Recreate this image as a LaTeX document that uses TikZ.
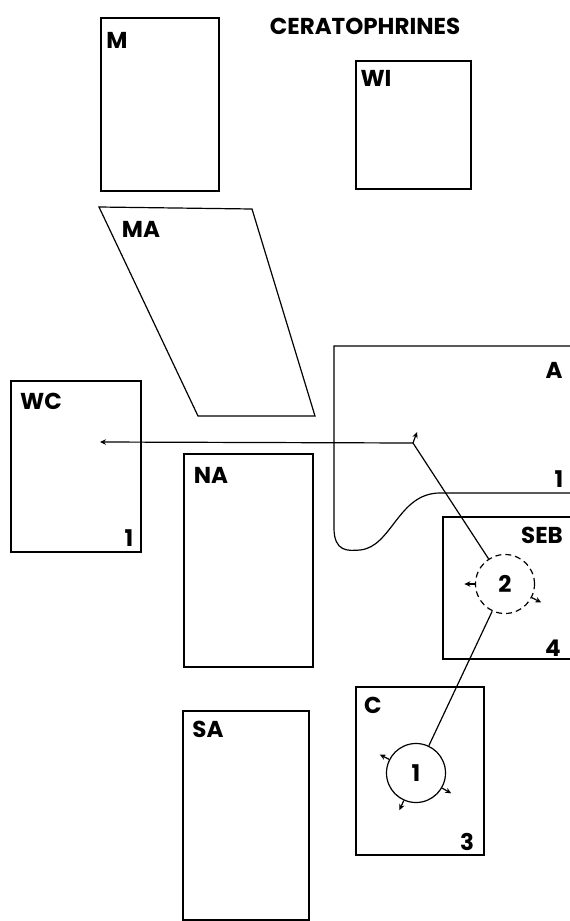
\documentclass[tikz,border=0pt]{standalone}
\usepackage{fontspec}
\setmainfont{Poppins}
\usepackage{tikz}
\usetikzlibrary{arrows.meta}
\usetikzlibrary{calc}

\begin{document}
\begin{tikzpicture}[x=1pt, y=-1pt, line width=1.2pt, every node/.style={font=\fontsize{23}{23}\selectfont\bfseries, inner sep=0pt}, ring/.style={circle, draw, minimum size=59pt}, tip/.style={-{Stealth[length=6pt,width=5.5pt]}}]
  \useasboundingbox (0,0) rectangle (570,921);
  \clip (0,0) rectangle (570,921);
  \draw (101,18) rectangle (219,191);
  \draw (356,61) rectangle (471,189);
  \draw (99,207) -- (252,209) -- (315,416) -- (198,416) -- cycle;
  \draw (580,346) -- (334,346) -- (334,528) .. controls (334,552) and (348,551) .. (360,550) .. controls (392,547) and (398,493) .. (440,493) -- (580,493);
  \draw (11,381) rectangle (141,552);
  \draw (184,454) rectangle (313,667);
  \draw (183,711) rectangle (309,920);
  \draw (580,517) -| (443,659) -- (580,659);
  \draw (356,687) rectangle (484,855);
  \node(ttl) at (365,26) {CERATOPHRINES};
  \node(m) at (117,40) {M};
  \node(wi) at (376,78) {WI};
  \node(ma) at (141,229) {MA};
  \node(a) at (554,370) {A};
  \node(a1) at (559,479) {1};
  \node(wc) at (41,401) {WC};
  \node(wc1) at (129,538) {1};
  \node(na) at (211,475) {NA};
  \node(seb) at (542,535) {SEB};
  \node(seb4) at (553,648) {4};
  \node(c) at (373,705) {C};
  \node(c3) at (467,842) {3};
  \node(sa) at (208,729) {SA};
  \node[ring](n1) at (416,773) {1};
  \node[ring, dash pattern=on 6pt off 4pt](n2) at (505,584) {2};
  \coordinate (jn) at (413,443);
  \coordinate (wcend) at (100,442);
  \coordinate (jtip) at (417,432);
  \draw (n1) -- (n2) -- (jn);
  \draw[tip] (jn) -- (wcend);
  \draw[tip] (jn) -- (jtip);
  \foreach \a in {153,246,330} \draw[tip] (n1.\a) -- ($(n1.center)!1.35!(n1.\a)$);
  \foreach \a in {180,333} \draw[tip] (n2.\a) -- ($(n2.center)!1.35!(n2.\a)$);
\end{tikzpicture}
\end{document}
